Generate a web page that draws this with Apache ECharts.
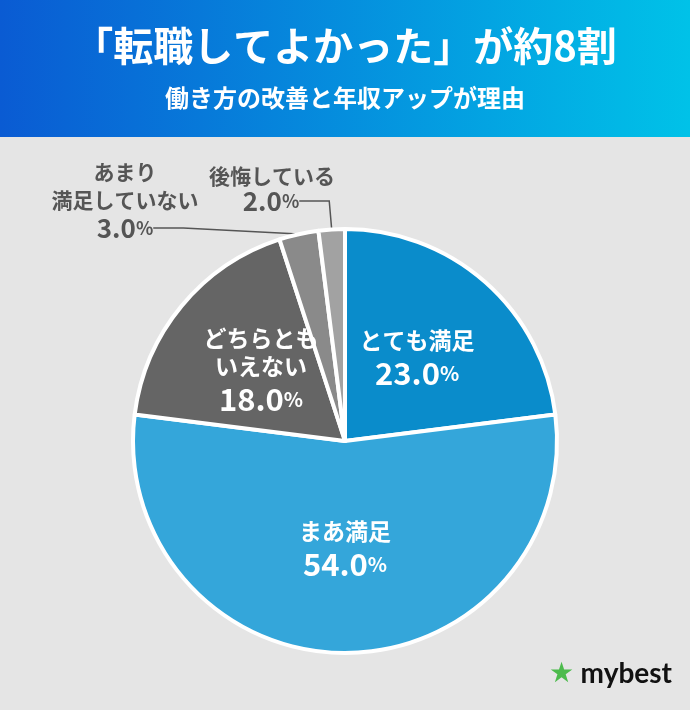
<!DOCTYPE html>
<html><head><meta charset="utf-8">
<script src="https://cdn.jsdelivr.net/npm/echarts@6/dist/echarts.min.js"></script>
<style>html,body{margin:0;padding:0}#c{width:690px;height:710px}</style>
</head><body><div id="c"></div>
<script>
var categories = ['とても満足', 'まあ満足', 'どちらとも\nいえない', 'あまり\n満足していない', '後悔している'];
var values = [23.0, 54.0, 18.0, 3.0, 2.0];
var colors = ['#0a8ccb', '#34a6da', '#656565', '#8a8a8a', '#a2a2a2'];

var chart = echarts.init(document.getElementById('c'));
var font = '"Noto Sans CJK JP", sans-serif';

function names(p) {
  return p.name.split('\n').map(function (s) { return '{n|' + s + '}'; }).join('\n');
}
function pct(p) {
  return '{v|' + p.value.toFixed(1) + '}{p|%}';
}
function fmt(p) { return names(p) + '\n' + pct(p); }

var inner = {
  position: 'inside', color: '#fff', formatter: fmt,
  rich: {
    n: { fontSize: 23, fontWeight: 'bold', color: '#fff', fontFamily: font, lineHeight: 28 },
    v: { fontSize: 31, fontWeight: 'bold', color: '#fff', fontFamily: font, lineHeight: 38 },
    p: { fontSize: 20, fontWeight: 'bold', color: '#fff', fontFamily: font, lineHeight: 38 }
  }
};
var outerRich = {
  n: { fontSize: 21, fontWeight: 'bold', color: '#555', fontFamily: font, lineHeight: 28 },
  v: { fontSize: 26, fontWeight: 'bold', color: '#555', fontFamily: font, lineHeight: 28 },
  p: { fontSize: 18, fontWeight: 'bold', color: '#555', fontFamily: font, lineHeight: 28 }
};

var data = categories.map(function (c, i) {
  var d = { name: c, value: values[i], itemStyle: { color: colors[i] } };
  if (i < 3) {
    d.label = inner;
    d.labelLine = { show: false };
  } else {
    d.label = { position: 'outside', formatter: pct, align: 'center', rich: outerRich };
    d.labelLine = { show: true, lineStyle: { color: '#555', width: 1.5 } };
  }
  return d;
});
// name-only labels for the small slices, drawn by a transparent copy of the pie
var nameData = categories.map(function (c, i) {
  return {
    name: c, value: values[i],
    label: i < 3 ? { show: false } : { show: true, position: 'outside', formatter: names, align: 'center', rich: outerRich },
    labelLine: { show: false }
  };
});

var base = {
  type: 'pie', center: [345, 441], radius: 212, startAngle: 90,
  clockwise: true, animation: false
};

chart.setOption({
  backgroundColor: '#e5e5e5',
  graphic: [
    { type: 'rect', shape: { x: 0, y: 0, width: 690, height: 137 },
      style: { fill: new echarts.graphic.LinearGradient(0, 0, 1, 0, [
        { offset: 0, color: '#0a5bd3' }, { offset: 1, color: '#00c2e8' }]) } },
    { type: 'text', left: 'center', top: 26,
      style: { text: '「転職してよかった」が約8割', fill: '#fff', font: 'bold 40px ' + font } },
    { type: 'text', left: 'center', top: 86,
      style: { text: '働き方の改善と年収アップが理由', fill: '#fff', font: 'bold 24px ' + font } },
    { type: 'text', right: 18, top: 660,
      style: { text: 'mybest', fill: '#111', font: 'bold 28px "Lato", sans-serif' } },
    { type: 'text', right: 116, top: 661,
      style: { text: '★', fill: '#4cbb4c', font: 'bold 28px "DejaVu Sans", sans-serif' } }
  ],
  series: [
    Object.assign({}, base, {
      itemStyle: { borderColor: '#fff', borderWidth: 4 },
      labelLayout: function (p) {
        if (p.dataIndex === 3) return { x: 125, y: 214, align: 'center', verticalAlign: 'top' };
        if (p.dataIndex === 4) return { x: 271, y: 187, align: 'center', verticalAlign: 'top' };
      },
      data: data
    }),
    Object.assign({}, base, {
      silent: true,
      itemStyle: { color: 'rgba(0,0,0,0)' },
      labelLayout: function (p) {
        if (p.dataIndex === 3) return { x: 125, y: 158, align: 'center', verticalAlign: 'top' };
        if (p.dataIndex === 4) return { x: 272, y: 162, align: 'center', verticalAlign: 'top' };
      },
      data: nameData
    })
  ]
});
</script></body></html>
